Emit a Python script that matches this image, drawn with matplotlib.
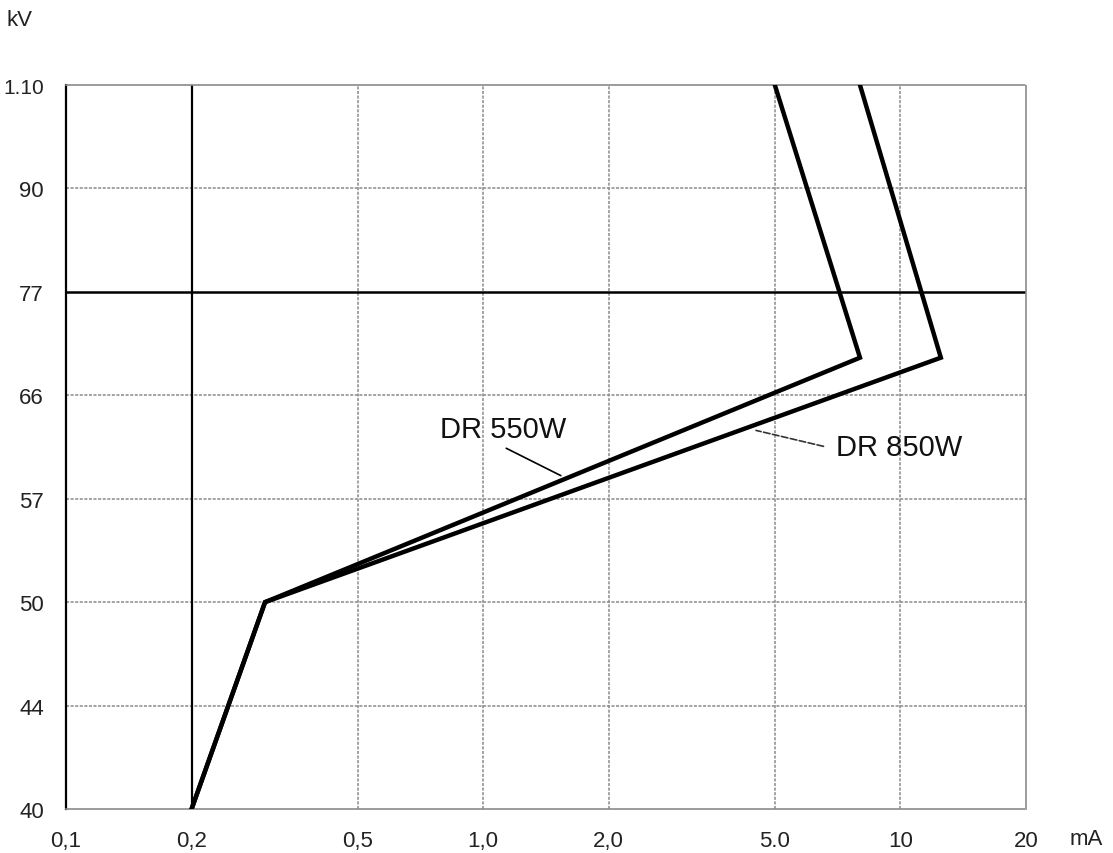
import numpy as np
import matplotlib
matplotlib.use("Agg")
import matplotlib.pyplot as plt

# ---- data ----
kv_ticks = [40, 44, 50, 57, 66, 77, 90, 110]
kv_tick_labels = ["40", "44", "50", "57", "66", "77", "90", "1.10"]
ma_ticks = [0.1, 0.2, 0.5, 1.0, 2.0, 5.0, 10, 20]
ma_tick_labels = ["0,1", "0,2", "0,5", "1,0", "2,0", "5.0", "10", "20"]

dr550_ma = [0.2, 0.3, 8.0, 5.0]
dr550_kv = [40, 50, 70, 110]
dr850_ma = [0.2, 0.3, 12.5, 8.0]
dr850_kv = [40, 50, 70, 110]

label550 = "DR 550W"
label850 = "DR 850W"
# ---------------

plt.rcParams['font.family'] = ['Liberation Sans', 'DejaVu Sans']

fig = plt.figure(figsize=(11.13, 8.54), dpi=100)
ax = fig.add_axes([66/1113, 1-810/854, (1026-66)/1113, (810-86)/854])

pos = np.arange(len(kv_ticks), dtype=float)
kv_arr = np.array(kv_ticks, dtype=float)

def fwd(v):
    return np.interp(v, kv_arr, pos)

def inv(p):
    return np.interp(p, pos, kv_arr)

ax.set_xscale('log')
ax.set_yscale('function', functions=(fwd, inv))
ax.set_xlim(0.1, 20)
ax.set_ylim(40, 110)

grid_col = '#8a8a8a'
for x in ma_ticks[1:-1]:
    if x == 0.2:
        continue
    ax.axvline(x, color=grid_col, lw=1.1, ls=(0, (2, 1)), zorder=1)
for y in kv_ticks[1:-1]:
    if y == 77:
        continue
    ax.axhline(y, color=grid_col, lw=1.1, ls=(0, (2, 1)), zorder=1)
ax.axvline(0.2, color='black', lw=1.6, zorder=2)
ax.axhline(77, color='black', lw=1.8, zorder=2)

for side in ['top', 'right', 'bottom']:
    ax.spines[side].set_color(grid_col)
    ax.spines[side].set_linewidth(1.2)
    ax.spines[side].set_linestyle((0, (2, 1)))
ax.spines['left'].set_color('black')
ax.spines['left'].set_linewidth(1.6)

ax.plot(dr550_ma, dr550_kv, color='black', lw=3.2, solid_joinstyle='miter', zorder=3)
ax.plot(dr850_ma, dr850_kv, color='black', lw=3.2, solid_joinstyle='miter', zorder=3)

ax.set_xticks(ma_ticks)
ax.set_xticklabels(ma_tick_labels)
ax.xaxis.set_minor_locator(matplotlib.ticker.NullLocator())
ax.set_yticks(kv_ticks)
ax.set_yticklabels(kv_tick_labels)
ax.yaxis.set_minor_locator(matplotlib.ticker.NullLocator())
ax.tick_params(axis='both', length=0, labelsize=16, colors='#222222')
ax.tick_params(axis='x', pad=15)
ax.tick_params(axis='y', pad=16)
ax.get_yticklabels()[-1].set_fontsize(15)

# annotations
ax.annotate("", xy=(1.556, 58.9), xytext=(1.12, 61.5),
            arrowprops=dict(arrowstyle='-', color='black', lw=1.2))
ax.text(0.79, 63.1, label550, fontsize=21, ha='left', va='center', color='#111111')
ax.annotate("", xy=(4.44, 63.0), xytext=(6.64, 61.5),
            arrowprops=dict(arrowstyle='-', color='#333333', lw=1.2, ls=(0, (4, 1.5))))
ax.text(7.02, 61.5, label850, fontsize=21, ha='left', va='center', color='#111111')

fig.text(7/1113, 1-20/854, "kV", fontsize=16, ha='left', va='center', color='#222222')
fig.text(1070/1113, 1-840/854, "mA", fontsize=16, ha='left', va='center', color='#222222')

fig.savefig("out.png", dpi=100, facecolor='white')
